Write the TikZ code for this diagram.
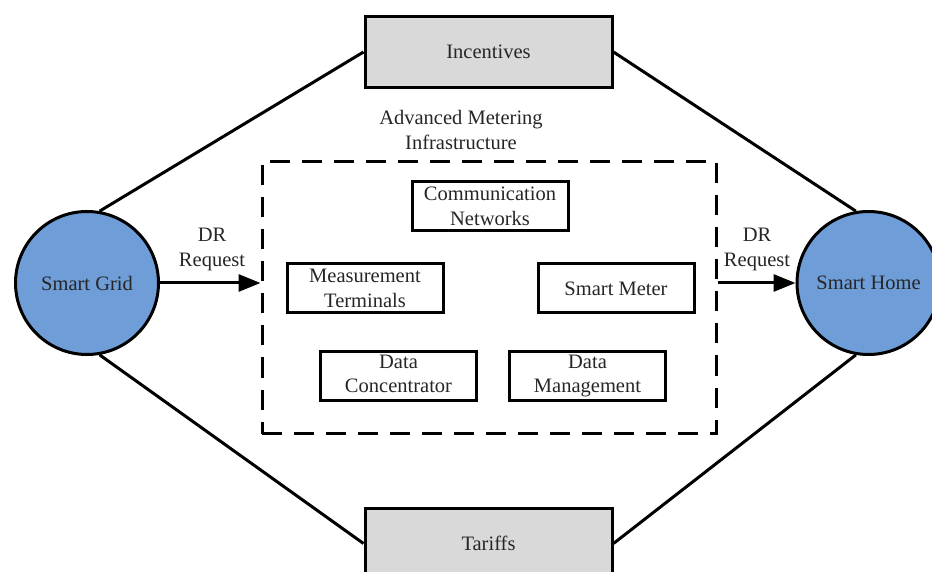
\documentclass[tikz,border=0pt]{standalone}
\usepackage{fontspec}
\setmainfont{Liberation Serif}
\usetikzlibrary{arrows.meta}
\definecolor{gridblue}{HTML}{6E9DD8}
\definecolor{boxgray}{HTML}{D9D9D9}
\definecolor{txtgray}{HTML}{262626}

\begin{document}
\begin{tikzpicture}[x=0.5pt,y=-0.5pt,line width=1.5pt,
        every node/.style={font=\fontsize{10.25pt}{12.5pt}\selectfont,text=txtgray,align=center},
        actor/.style={circle,draw,fill=gridblue,minimum size=71.5pt,inner sep=0pt},
        policy/.style={rectangle,draw,fill=boxgray,minimum width=123.5pt,minimum height=35.5pt},
        part/.style={rectangle,draw,minimum width=78pt,minimum height=24.5pt,inner sep=1pt},
        amibox/.style={rectangle,draw,dash pattern=on 10pt off 6pt,minimum width=227pt,minimum height=136pt},
        req/.style={-{Triangle[length=11pt,width=8.5pt]}}]
    \useasboundingbox (0,0) rectangle (932,572);
    \node[actor] (sg) at (87,283) {Smart Grid};
    \node[actor] (sh) at (868.5,283) {Smart Home};
    \node[policy] (inc) at (488.5,52) {Incentives};
    \node[policy] (tar) at (488.5,543.5) {Tariffs};
    \node[amibox] (ami) at (489,297.5) {};
    \node (amilbl) at (461,130) {Advanced Metering\\Infrastructure};
    \node[part] (com) at (490,206) {Communication\\Networks};
    \node[part] (mt) at (365,288.5) {Measurement\\Terminals};
    \node[part] (sm) at (616,288.5) {Smart Meter};
    \node[part] (dc) at (398.5,376) {Data\\Concentrator\vphantom{g}};
    \node[part] (dm) at (587.5,376) {Data\\Management};
    \draw (sg.80) -- (inc.west);
    \draw (inc.east) -- (sh.100);
    \draw (sg.-80) -- (tar.west);
    \draw (tar.east) -- (sh.-100);
    \draw[req] (sg.east) -- (sg.east -| ami.west);
    \draw[req] (ami.east |- sh.west) -- (sh.west);
    \node (req1) at (212,249) {DR\\Request};
    \node (req2) at (757,249) {DR\\Request};
\end{tikzpicture}
\end{document}
